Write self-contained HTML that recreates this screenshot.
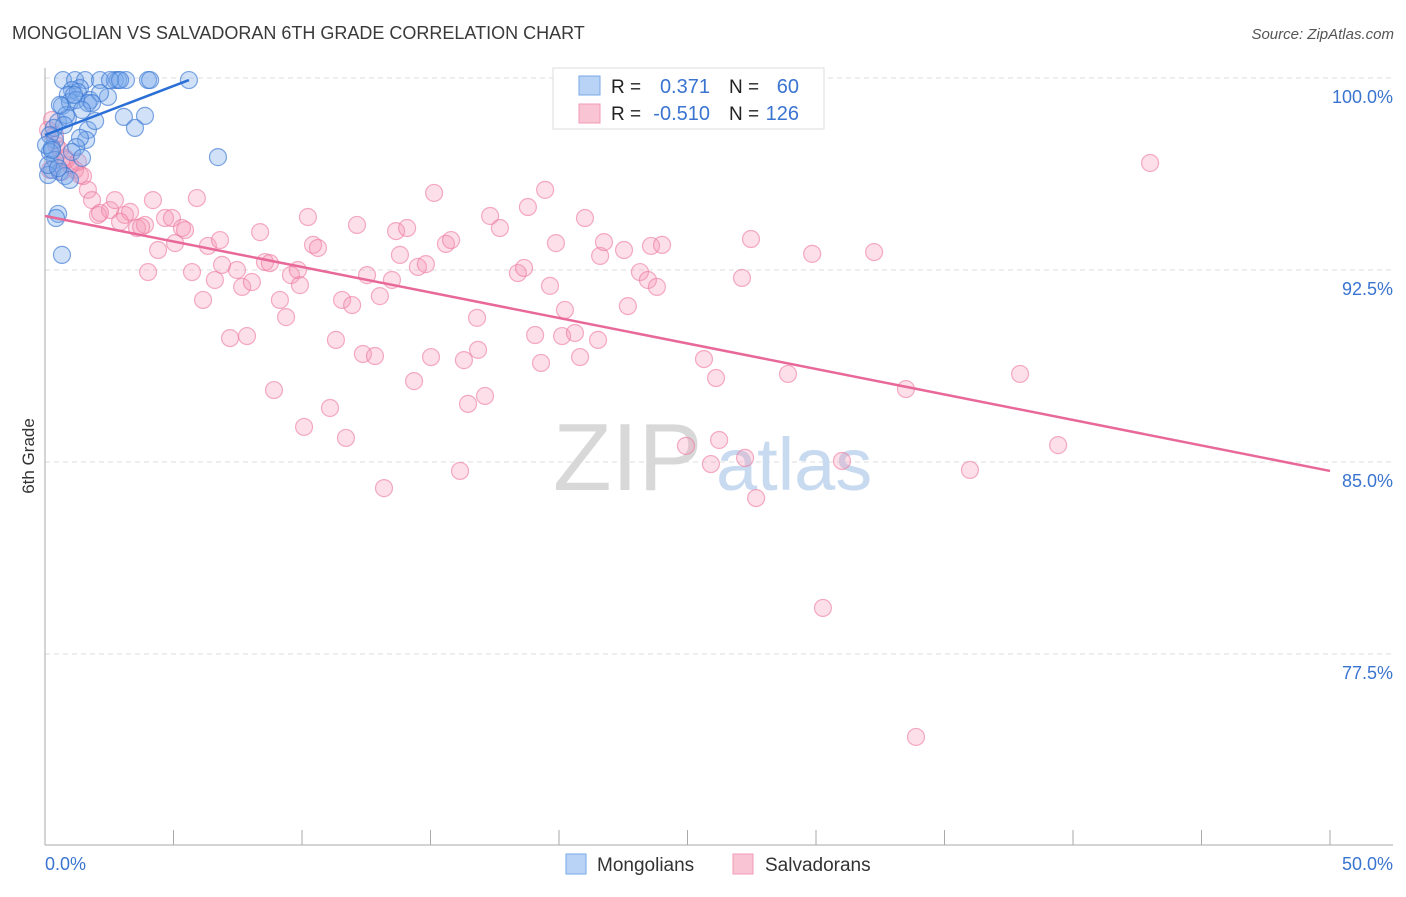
<!DOCTYPE html>
<html><head><meta charset="utf-8"><style>
body{margin:0;background:#fff;font-family:"Liberation Sans",sans-serif;}
svg text{font-family:"Liberation Sans",sans-serif;}
</style></head><body>
<svg width="1406" height="892" viewBox="0 0 1406 892" xmlns="http://www.w3.org/2000/svg">
<text x="12" y="39" font-size="18" fill="#3a3a3a">MONGOLIAN VS SALVADORAN 6TH GRADE CORRELATION CHART</text>
<text x="1394" y="39" font-size="15" fill="#555" font-style="italic" text-anchor="end">Source: ZipAtlas.com</text>
<g id="grid"></g>
<g>
<text x="553" y="490" font-size="96" fill="#d8d8d8" font-family="Liberation Serif">ZIP</text>
<text x="716" y="490" font-size="74" fill="#c8daf0">atlas</text>
</g>
<g id="axes"></g>
<g id="pinkPts"></g>
<g id="bluePts"></g>
<g id="trends"></g>
<text x="34" y="456" font-size="17" fill="#333" text-anchor="middle" transform="rotate(-90 34 456)">6th Grade</text>
<g>
<rect x="553" y="68" width="271" height="61" fill="#fff" stroke="#ddd"/>
<rect x="579" y="76" width="21" height="19" fill="#b8d3f5" stroke="#7aaae8"/>
<rect x="579" y="104" width="21" height="19" fill="#f9c5d5" stroke="#f09ab4"/>
<text x="611" y="93" font-size="19" fill="#222">R =</text>
<text x="710" y="93" font-size="20" fill="#3a74d0" text-anchor="end">0.371</text>
<text x="729" y="93" font-size="19" fill="#222">N =</text>
<text x="799" y="93" font-size="20" fill="#3a74d0" text-anchor="end">60</text>
<text x="611" y="120" font-size="19" fill="#222">R =</text>
<text x="710" y="120" font-size="20" fill="#3a74d0" text-anchor="end">-0.510</text>
<text x="729" y="120" font-size="19" fill="#222">N =</text>
<text x="799" y="120" font-size="20" fill="#3a74d0" text-anchor="end">126</text>
</g>
<g>
<rect x="566" y="854" width="20" height="20" fill="#b8d3f5" stroke="#7aaae8"/>
<text x="597" y="871" font-size="19" fill="#333">Mongolians</text>
<rect x="733" y="854" width="20" height="20" fill="#f9c5d5" stroke="#f09ab4"/>
<text x="765" y="871" font-size="19" fill="#333">Salvadorans</text>
</g>
</svg>
<script>
const yTicks=[100,92.5,85,77.5];
const yTickLabels=["100.0%","92.5%","85.0%","77.5%"];
const xTickVals=[0,5,10,15,20,25,30,35,40,45,50];
const xEndLabels=["0.0%","50.0%"];
const blueX=[0.70,1.17,1.56,2.14,2.72,2.84,3.15,4.01,4.09,5.60,1.36,1.05,0.89,1.28,1.75,0.66,0.97,1.21,1.67,2.45,0.51,0.89,0.82,1.67,1.95,1.60,1.36,3.07,3.89,3.50,1.21,1.05,1.44,0.39,0.27,0.19,0.39,0.27,0.58,0.78,0.97,0.12,6.73,0.51,0.43,0.66,2.14,2.53,2.92,0.74,0.35,0.19,0.12,0.51,0.04,1.13,1.83,0.58,1.44,0.27];
const blueY=[99.92,99.92,99.92,99.92,99.92,99.92,99.92,99.92,99.92,99.92,99.61,99.53,99.34,99.45,99.14,98.91,99.06,99.14,99.02,99.26,98.28,98.44,98.55,97.97,98.32,97.58,97.66,98.48,98.52,98.05,97.30,97.11,96.88,97.58,97.27,97.11,96.80,96.41,96.33,96.17,96.02,96.21,96.91,94.69,94.53,93.09,99.41,99.92,99.92,98.16,98.05,97.77,96.60,96.48,97.38,99.34,99.02,98.95,98.75,97.19];
const pinkX=[0.27,0.39,0.58,0.78,0.97,1.17,1.36,0.12,0.19,0.66,1.67,1.83,2.06,2.53,2.72,3.11,3.31,3.58,3.89,4.20,4.40,4.67,4.94,5.06,5.33,5.45,4.01,5.72,5.91,6.15,6.34,6.61,6.81,6.89,7.20,7.47,7.67,7.86,8.05,8.37,8.56,8.75,8.91,9.14,9.38,9.57,9.84,10.08,10.23,10.43,10.62,11.09,11.32,11.56,11.71,11.95,12.14,12.37,12.53,12.84,13.03,13.19,13.50,13.66,13.81,14.09,14.36,14.51,14.82,15.02,15.14,15.60,15.80,16.15,16.30,16.46,16.81,16.85,17.12,17.32,17.70,18.40,18.64,18.79,19.07,19.30,19.46,19.65,19.88,20.23,20.12,20.62,20.82,21.01,21.52,21.60,21.75,22.53,22.68,23.15,23.46,23.81,23.58,24.01,24.94,25.64,25.91,26.11,26.23,27.12,27.24,27.47,27.67,28.91,29.85,30.27,31.01,32.26,33.50,33.89,35.99,37.94,39.42,43.00,24.86,0.43,0.82,1.28,1.48,2.14,2.92,3.74,9.92];
const pinkY=[98.36,97.77,97.19,96.88,96.60,96.41,96.21,97.97,96.41,96.33,95.63,95.23,94.65,94.84,95.23,94.65,94.77,94.14,94.26,95.23,93.28,94.53,94.53,93.55,94.14,94.06,92.42,92.42,95.31,91.33,93.44,92.11,93.67,92.70,89.84,92.50,91.84,89.92,92.03,93.98,92.81,92.77,87.81,91.33,90.66,92.30,92.50,86.37,94.57,93.48,93.36,87.11,89.77,91.33,85.94,91.13,94.26,89.22,92.30,89.14,91.48,83.98,92.11,94.02,93.09,94.14,88.16,92.62,92.73,89.10,95.51,93.52,93.67,84.65,88.98,87.27,90.63,89.38,87.58,94.61,94.14,92.38,92.58,94.96,89.96,88.87,95.63,91.88,93.55,90.94,89.92,90.04,89.10,94.53,89.77,93.05,93.59,93.28,91.09,92.42,92.11,91.84,93.44,93.48,85.63,89.02,84.92,88.28,85.86,92.19,85.16,93.71,83.59,88.44,93.13,79.30,85.04,93.20,87.85,74.26,84.69,88.44,85.66,96.68,99.92,97.38,96.80,96.72,96.17,94.73,94.38,94.18,91.91];
const blueTrendX=[0,5.6];
const blueTrendY=[97.77,99.92];
const pinkTrendX=[0,50];
const pinkTrendY=[94.61,84.65];

const NS="http://www.w3.org/2000/svg";
function xs(v){return 45+v*25.7;}
function ys(v){return 78+(100-v)*25.6;}
function mk(tag,attrs,parent){const e=document.createElementNS(NS,tag);for(const k in attrs)e.setAttribute(k,attrs[k]);parent.appendChild(e);return e;}
const grid=document.getElementById('grid');
yTicks.forEach((t,i)=>{
  const l=mk('line',{x1:45,x2:1393,y1:ys(t),y2:ys(t),stroke:'#ddd','stroke-dasharray':'5,4'},grid);
  
  
  const tx=mk('text',{x:1393,y:ys(t)+25,'font-size':18,fill:'#3a74d0','text-anchor':'end'},grid);
  tx.textContent=yTickLabels[i];
  
  
});
const axes=document.getElementById('axes');
const ya=mk('line',{x1:45,x2:45,y1:68,y2:845,stroke:'#aaa'},axes);


const xa=mk('line',{x1:45,x2:1393,y1:845,y2:845,stroke:'#aaa'},axes);


xTickVals.forEach(v=>{
  const t=mk('line',{x1:xs(v),x2:xs(v),y1:830,y2:845,stroke:'#aaa'},axes);
  
  
});
const l0=mk('text',{x:45,y:870,'font-size':18,fill:'#3a74d0'},axes);
l0.textContent=xEndLabels[0];


const l1=mk('text',{x:1393,y:870,'font-size':18,fill:'#3a74d0','text-anchor':'end'},axes);
l1.textContent=xEndLabels[1];


const pg=document.getElementById('pinkPts');
pinkX.forEach((x,i)=>{
  const c=mk('circle',{cx:xs(x),cy:ys(pinkY[i]),r:8.5,fill:'rgba(244,150,180,0.3)',stroke:'rgba(236,120,158,0.6)','stroke-width':1.2},pg);
  
  
});
const bg=document.getElementById('bluePts');
blueX.forEach((x,i)=>{
  const c=mk('circle',{cx:xs(x),cy:ys(blueY[i]),r:8.5,fill:'rgba(120,170,235,0.35)',stroke:'rgba(60,120,210,0.65)','stroke-width':1.2},bg);
  
  
});
const tg=document.getElementById('trends');
const pt=mk('line',{x1:xs(pinkTrendX[0]),y1:ys(pinkTrendY[0]),x2:xs(pinkTrendX[1]),y2:ys(pinkTrendY[1]),stroke:'#e8689a','stroke-width':2.5},tg);


const bt=mk('line',{x1:xs(blueTrendX[0]),y1:ys(blueTrendY[0]),x2:xs(blueTrendX[1]),y2:ys(blueTrendY[1]),stroke:'#2a6fd6','stroke-width':2.5},tg);


</script>
</body></html>
